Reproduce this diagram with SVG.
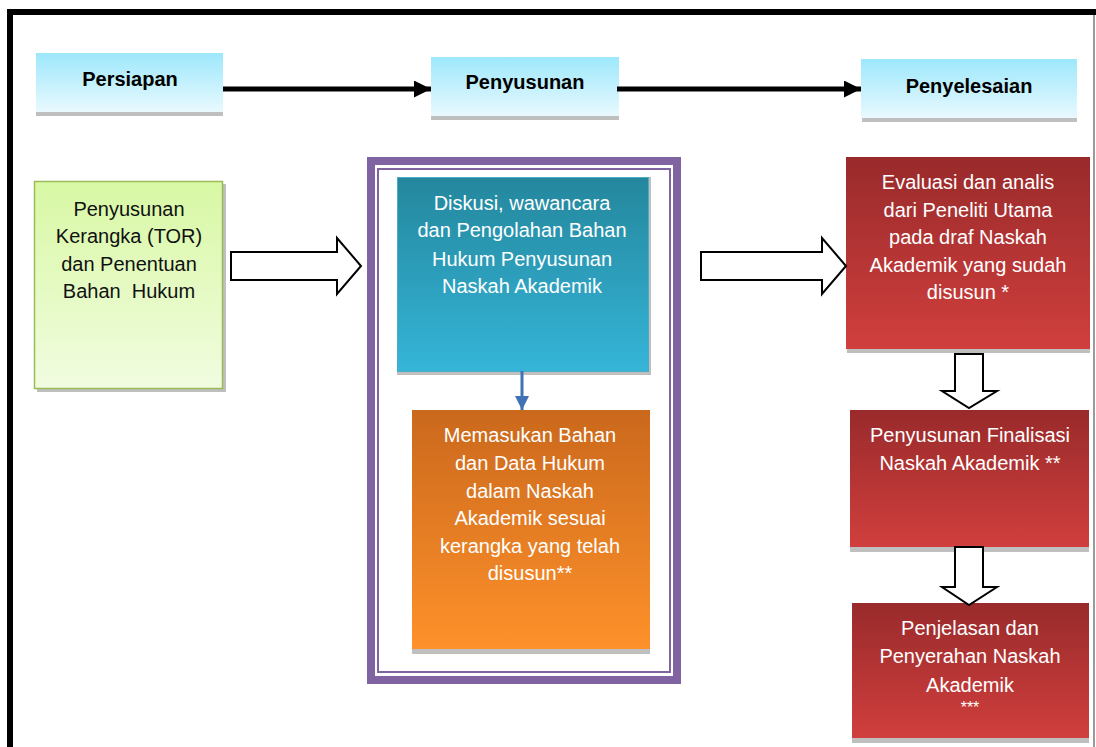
<svg xmlns="http://www.w3.org/2000/svg" width="1096" height="747" viewBox="0 0 1096 747">
<style>
.hdr{font-family:"Liberation Sans",Arial,sans-serif;font-weight:bold;font-size:20px;fill:#000;text-anchor:middle}
.body{font-family:"Liberation Sans",Arial,sans-serif;font-size:20px;text-anchor:middle}
.dark{fill:#111}
.white{fill:#fff}
.shadow{fill:#bfbfbf}
.hollow{fill:#fff;stroke:#000;stroke-width:2;stroke-linejoin:miter}
</style>
<defs>
<linearGradient id="gHdr" x1="0" y1="0" x2="0" y2="1"><stop offset="0" stop-color="#9de8fc"/><stop offset="1" stop-color="#e9f9fe"/></linearGradient>
<linearGradient id="gGreen" x1="0" y1="0" x2="0" y2="1"><stop offset="0" stop-color="#d8f8a4"/><stop offset="1" stop-color="#f1fce0"/></linearGradient>
<linearGradient id="gTeal" x1="0" y1="0" x2="0" y2="1"><stop offset="0" stop-color="#24879d"/><stop offset="1" stop-color="#35b5d8"/></linearGradient>
<linearGradient id="gOrange" x1="0" y1="0" x2="0" y2="1"><stop offset="0" stop-color="#ca681c"/><stop offset="1" stop-color="#fe912a"/></linearGradient>
<linearGradient id="gRed" x1="0" y1="0" x2="0" y2="1"><stop offset="0" stop-color="#992a2b"/><stop offset="1" stop-color="#d03f3d"/></linearGradient>
<marker id="mBlack" viewBox="0 0 10 10" refX="10" refY="5" markerWidth="3.6" markerHeight="3.4" orient="auto" markerUnits="strokeWidth"><path d="M0,0 L10,5 L0,10 z" fill="#000"/></marker>
<marker id="mBlue" viewBox="0 0 10 10" refX="10" refY="5" markerWidth="4.8" markerHeight="5" orient="auto" markerUnits="strokeWidth"><path d="M0,0 L10,5 L0,10 z" fill="#3f72b6"/></marker>
</defs>
<rect width="1096" height="747" fill="#fff"/>
<g id="frame">
<line x1="1094" y1="15" x2="1094" y2="747" stroke="#9a9a9a" stroke-width="2"/>
<path d="M10,747 L10,12 L1096,12" fill="none" stroke="#000" stroke-width="6"/>
</g>
<g id="hdr-persiapan">
<rect x="36" y="112" width="187" height="4" class="shadow"/>
<rect x="36" y="53" width="187" height="59" fill="url(#gHdr)"/>
<text x="130" y="86" class="hdr">Persiapan</text>
</g>
<g id="hdr-penyusunan">
<rect x="431" y="116" width="188" height="4" class="shadow"/>
<rect x="431" y="57" width="188" height="59" fill="url(#gHdr)"/>
<text x="525" y="89" class="hdr">Penyusunan</text>
</g>
<g id="hdr-penyelesaian">
<rect x="862" y="118" width="215" height="4" class="shadow"/>
<rect x="861" y="59" width="216" height="59" fill="url(#gHdr)"/>
<text x="969" y="93" class="hdr">Penyelesaian</text>
</g>
<g id="node-tor">
<rect x="37" y="184" width="189" height="208" class="shadow"/>
<rect x="34.5" y="181.5" width="188" height="207" fill="url(#gGreen)" stroke="#9bbb59" stroke-width="1.5"/>
<text class="body dark"><tspan x="129" y="216">Penyusunan</tspan><tspan x="129" y="243">Kerangka (TOR)</tspan><tspan x="129" y="271">dan Penentuan</tspan><tspan x="129" y="298">Bahan&#160; Hukum</tspan></text>
</g>
<g id="group-penyusunan">
<rect x="371" y="161" width="306" height="519" fill="#fff" stroke="#8064a2" stroke-width="8"/>
<rect x="378" y="169" width="292" height="503" fill="none" stroke="#8064a2" stroke-width="2"/>
</g>
<g id="node-diskusi">
<rect x="397" y="177" width="254" height="198" class="shadow"/>
<rect x="397.5" y="177.5" width="251" height="194" fill="url(#gTeal)" stroke="#4bacc6" stroke-width="1"/>
<text class="body white"><tspan x="522" y="210">Diskusi, wawancara</tspan><tspan x="522" y="237">dan Pengolahan Bahan</tspan><tspan x="522" y="266">Hukum Penyusunan</tspan><tspan x="522" y="293">Naskah Akademik</tspan></text>
</g>
<g id="node-memasukan">
<rect x="412" y="413" width="238" height="241" class="shadow"/>
<rect x="412" y="410" width="238" height="239" fill="url(#gOrange)"/>
<text class="body white"><tspan x="530" y="442">Memasukan Bahan</tspan><tspan x="530" y="470">dan Data Hukum</tspan><tspan x="530" y="498">dalam Naskah</tspan><tspan x="530" y="525">Akademik sesuai</tspan><tspan x="530" y="553">kerangka yang telah</tspan><tspan x="530" y="580">disusun**</tspan></text>
</g>
<g id="node-evaluasi">
<rect x="847" y="160" width="243" height="193" class="shadow"/>
<rect x="846" y="157" width="244" height="192" fill="url(#gRed)"/>
<text class="body white"><tspan x="968" y="189">Evaluasi dan analis</tspan><tspan x="968" y="217">dari Peneliti Utama</tspan><tspan x="968" y="244">pada draf Naskah</tspan><tspan x="968" y="272">Akademik yang sudah</tspan><tspan x="968" y="299">disusun *</tspan></text>
</g>
<g id="node-finalisasi">
<rect x="850" y="413" width="239" height="139" class="shadow"/>
<rect x="850" y="410" width="239" height="137" fill="url(#gRed)"/>
<text class="body white"><tspan x="970" y="442">Penyusunan Finalisasi</tspan><tspan x="970" y="470">Naskah Akademik **</tspan></text>
</g>
<g id="node-penjelasan">
<rect x="852" y="606" width="237" height="137" class="shadow"/>
<rect x="852" y="603" width="237" height="135" fill="url(#gRed)"/>
<text class="body white"><tspan x="970" y="635">Penjelasan dan</tspan><tspan x="970" y="663">Penyerahan Naskah</tspan><tspan x="970" y="692">Akademik</tspan><tspan x="970" y="713" font-size="16">***</tspan></text>
</g>
<g id="connectors">
<line x1="223" y1="89" x2="431" y2="89" stroke="#000" stroke-width="5" marker-end="url(#mBlack)"/>
<line x1="617" y1="89" x2="861" y2="89" stroke="#000" stroke-width="5" marker-end="url(#mBlack)"/>
<line x1="522" y1="371" x2="522" y2="410" stroke="#3f72b6" stroke-width="3" marker-end="url(#mBlue)"/>
<path class="hollow" d="M231,252 L337,252 L337,238 L361,266 L337,294 L337,280 L231,280 Z"/>
<path class="hollow" d="M701,252 L822,252 L822,238 L846,266 L822,294 L822,280 L701,280 Z"/>
<path class="hollow" d="M955,354 L983,354 L983,391 L997,391 L969,408 L942,391 L955,391 Z"/>
<path class="hollow" d="M955,547 L983,547 L983,587 L997,587 L969,605 L942,587 L955,587 Z"/>
</g>
</svg>
